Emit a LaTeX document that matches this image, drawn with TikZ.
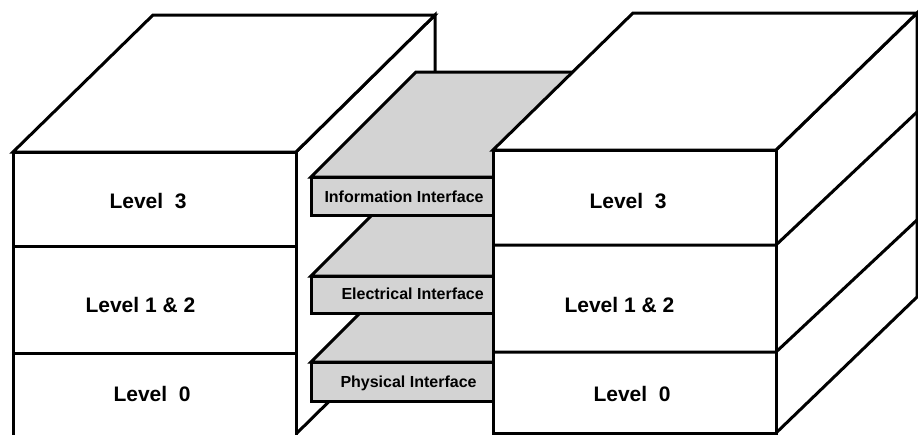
\documentclass[tikz,border=0pt]{standalone}
\usepackage{fontspec}
\setmainfont{Liberation Sans}
\definecolor{plategray}{RGB}{211,211,211}
\begin{document}
\begin{tikzpicture}[x=1pt,y=-1pt,line width=3pt,line join=miter,
  face/.style={fill=white,draw=black},
  plate/.style={fill=plategray,draw=black},
  lvl/.style={anchor=base west,inner sep=0pt,font=\bfseries\fontsize{21}{21}\selectfont},
  ifc/.style={anchor=base west,inner sep=0pt,font=\bfseries\fontsize{16}{16}\selectfont}]
\useasboundingbox (0,0) rectangle (918,434);
% left box
\draw[face] (296,152) -- (435,15) -- (435,297) -- (296,434) -- cycle;
\draw[face] (13,152) -- (153,15) -- (435,15) -- (296,152) -- cycle;
\draw[face] (13,440) -- (13,152) -- (296,152) -- (296,440);
\draw (13,246) -- (296,246);
\draw (13,353) -- (296,353);
% interface plates (back to front)
\draw[plate] (311,362) -- (416,257) -- (700,257) -- (700,362) -- cycle;
\draw[plate] (311,362) rectangle (493,401);
\draw[plate] (311,276) -- (416,171) -- (700,171) -- (700,276) -- cycle;
\draw[plate] (311,276) rectangle (493,313);
\draw[plate] (311,177) -- (416,72) -- (700,72) -- (700,177) -- cycle;
\draw[plate] (311,177) rectangle (493,215);
% right box
\draw[face] (776,150) -- (917,13) -- (917,297) -- (776,433) -- cycle;
\draw[face] (493,150) -- (633,13) -- (917,13) -- (776,150) -- cycle;
\draw[face] (493,150) rectangle (776,433);
\draw (493,245) -- (776,245) -- (917,112);
\draw (493,352) -- (776,352) -- (917,220);
% labels
\node[lvl] (l3) at (108,208) {Level\ \ 3};
\node[lvl] (l12) at (84,312) {Level 1 \& 2};
\node[lvl] (l0) at (112,401) {Level\ \ 0};
\node[lvl] (r3) at (588,208) {Level\ \ 3};
\node[lvl] (r12) at (563,312) {Level 1 \& 2};
\node[lvl] (r0) at (592,401) {Level\ \ 0};
\node[ifc] (info) at (323,202) {Information Interface};
\node[ifc] (elec) at (340,299) {Electrical Interface};
\node[ifc] (phys) at (339,387) {Physical Interface};
\end{tikzpicture}
\end{document}
